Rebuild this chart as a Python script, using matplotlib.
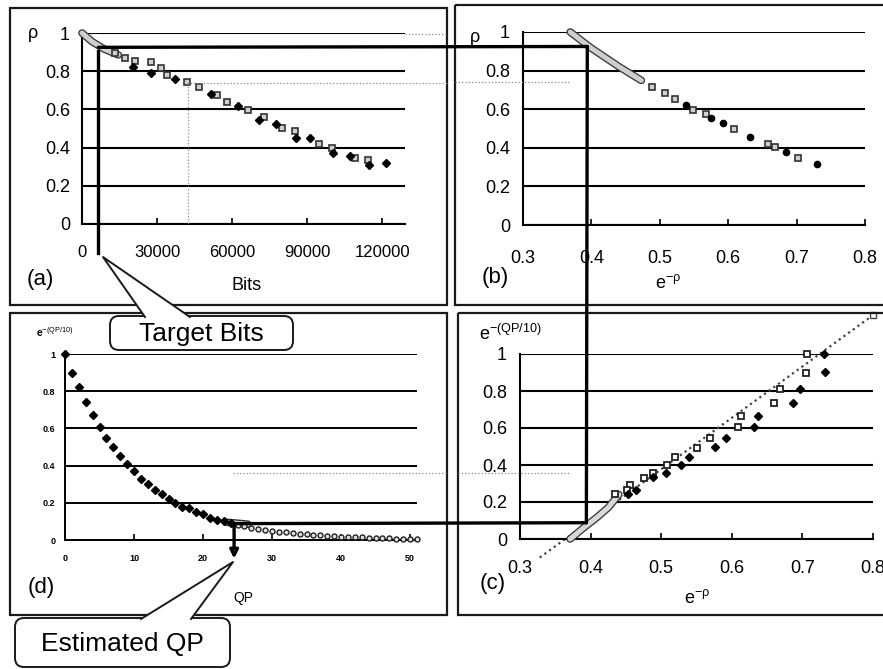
import matplotlib
matplotlib.use('Agg')
import matplotlib.pyplot as plt
from matplotlib.patches import Rectangle, FancyBboxPatch, Polygon, ConnectionPatch
import matplotlib.patheffects as pe

# ---------------- data ----------------
# (a) rho vs bits
bits_a_fill = [20500, 27600, 37200, 51600, 62300, 70800, 77500, 85600, 91200, 100100, 107200, 114800, 121500]
rho_a_fill = [0.824, 0.789, 0.759, 0.681, 0.618, 0.545, 0.522, 0.449, 0.452, 0.373, 0.356, 0.309, 0.318]
bits_a_sq = [13200, 17200, 21200, 27600, 31600, 33900, 41900, 46900, 53900, 57900, 66300, 72500, 79900, 85200, 94800, 99900, 108900, 114300]
rho_a_sq = [0.894, 0.868, 0.853, 0.846, 0.815, 0.780, 0.742, 0.719, 0.675, 0.637, 0.597, 0.562, 0.501, 0.487, 0.419, 0.400, 0.347, 0.335]
band_a_x = [0, 4000, 9000, 14500]
band_a_y = [1.0, 0.955, 0.915, 0.885]

# (b) rho vs e^-rho
e_b_fill = [0.539, 0.575, 0.592, 0.632, 0.685, 0.730]
rho_b_fill = [0.622, 0.553, 0.527, 0.458, 0.380, 0.314]
e_b_sq = [0.488, 0.507, 0.522, 0.549, 0.568, 0.609, 0.658, 0.668, 0.702]
rho_b_sq = [0.717, 0.682, 0.653, 0.596, 0.573, 0.496, 0.418, 0.406, 0.349]
band_b_x = [0.369, 0.400, 0.440, 0.473]
band_b_y = [1.0, 0.916, 0.821, 0.749]

# (c) e^-(QP/10) vs e^-rho
e_c_sq = [0.706, 0.705, 0.668, 0.660, 0.613, 0.609, 0.569, 0.550, 0.520, 0.508, 0.489, 0.475, 0.456, 0.451, 0.435]
q_c_sq = [1.00, 0.90, 0.81, 0.735, 0.665, 0.604, 0.548, 0.494, 0.441, 0.400, 0.358, 0.328, 0.292, 0.265, 0.243]
e_c_fill = [0.731, 0.732, 0.697, 0.686, 0.637, 0.631, 0.592, 0.576, 0.540, 0.528, 0.507, 0.488, 0.464, 0.453]
q_c_fill = [1.00, 0.905, 0.81, 0.735, 0.665, 0.604, 0.548, 0.496, 0.441, 0.400, 0.358, 0.333, 0.265, 0.243]
fit_x = [0.328, 0.800]
fit_y = [-0.10, 1.21]
band_c_x = [0.371, 0.390, 0.410, 0.425, 0.440]
band_c_y = [0.0, 0.06, 0.12, 0.17, 0.24]

# (d) e^-(QP/10) vs QP
qp_d = list(range(0, 52))
q_d = [1.00, 0.90, 0.82, 0.74, 0.67, 0.61, 0.55, 0.50, 0.45, 0.41,
       0.37, 0.33, 0.30, 0.27, 0.25, 0.22, 0.20, 0.18, 0.17, 0.15,
       0.14, 0.12, 0.11, 0.10, 0.09, 0.08, 0.074, 0.067, 0.061, 0.055,
       0.050, 0.045, 0.041, 0.037, 0.033, 0.030, 0.027, 0.025, 0.022, 0.020,
       0.018, 0.017, 0.015, 0.014, 0.012, 0.011, 0.010, 0.009, 0.008, 0.007,
       0.007, 0.006]
band_d_x = [23.5, 26.5]
band_d_y = [0.095, 0.085]

# estimation path
target_bits = 6500
rho_target = 0.925
e_target = 0.394
q_target = 0.088
qp_target = 24.5

yticks = [0, 0.2, 0.4, 0.6, 0.8, 1.0]
ytick_labels = ['0', '0.2', '0.4', '0.6', '0.8', '1']
xticks_a = [0, 30000, 60000, 90000, 120000]
xticks_a_labels = ['0', '30000', '60000', '90000', '120000']
xticks_e = [0.3, 0.4, 0.5, 0.6, 0.7, 0.8]
xticks_e_labels = ['0.3', '0.4', '0.5', '0.6', '0.7', '0.8']
xticks_d = [0, 10, 20, 30, 40, 50]
xticks_d_labels = ['0', '10', '20', '30', '40', '50']

# ---------------- figure ----------------
plt.rcParams['font.family'] = ['Liberation Sans', 'DejaVu Sans']
plt.rcParams['mathtext.fontset'] = 'custom'
plt.rcParams['mathtext.rm'] = 'Liberation Sans'
plt.rcParams['mathtext.it'] = 'Liberation Sans'
plt.rcParams['mathtext.bf'] = 'Liberation Sans:bold'

W, H = 883, 669
fig = plt.figure(figsize=(W / 100, H / 100), dpi=100)
fig.patch.set_facecolor('white')


def px_axes(l, t, r, b):
    return fig.add_axes([l / W, 1 - b / H, (r - l) / W, (b - t) / H])


def style(ax, xlim, xt, xtl, fs, xpad, ypad, gl=1.5, xfs=None, bold=False):
    ax.set_xlim(*xlim)
    ax.set_ylim(0, 1)
    ax.set_yticks(yticks)
    ax.set_yticklabels(ytick_labels)
    ax.set_xticks(xt)
    ax.set_xticklabels(xtl)
    ax.patch.set_alpha(0)
    for s in ['top', 'right']:
        ax.spines[s].set_visible(False)
    for s in ['left', 'bottom']:
        ax.spines[s].set_linewidth(gl)
        ax.spines[s].set_color('black')
    ax.grid(axis='y', color='black', lw=gl)
    ax.set_axisbelow(True)
    ax.tick_params(axis='y', length=0, pad=ypad, labelsize=fs)
    ax.tick_params(axis='x', direction='in', length=4, width=1.2, pad=xpad,
                   labelsize=xfs if xfs else fs)
    if bold:
        for lab in ax.get_xticklabels() + ax.get_yticklabels():
            lab.set_fontweight('bold')


band_pe = [pe.Stroke(linewidth=5.5, foreground='#3a3a3a'), pe.Normal()]

# (a)
ax_a = px_axes(82, 33, 405, 224)
style(ax_a, (0, 129000), xticks_a, xticks_a_labels, 13, 15, 8.6, xfs=12)
ax_a.plot(band_a_x, band_a_y, color='#cfcfcf', lw=3.6, solid_capstyle='round', path_effects=band_pe, zorder=3, clip_on=False)
ax_a.plot(bits_a_sq, rho_a_sq, ls='none', marker='s', ms=5, mfc='#d0d0d0', mec='#333333', mew=1.2, zorder=4, clip_on=False)
ax_a.plot(bits_a_fill, rho_a_fill, ls='none', marker='D', ms=4.5, mfc='black', mec='black', zorder=5, clip_on=False)

# (b)
ax_b = px_axes(523, 32, 865, 225)
style(ax_b, (0.3, 0.8), xticks_e, xticks_e_labels, 13, 18, 9.4)
ax_b.plot(band_b_x, band_b_y, color='#cfcfcf', lw=3.6, solid_capstyle='round', path_effects=band_pe, zorder=3, clip_on=False)
ax_b.plot(e_b_sq, rho_b_sq, ls='none', marker='s', ms=4.5, mfc='#d0d0d0', mec='#333333', mew=1.2, zorder=4)
ax_b.plot(e_b_fill, rho_b_fill, ls='none', marker='o', ms=4.5, mfc='black', mec='black', zorder=5)

# (c)
ax_c = px_axes(520, 354, 873, 539)
style(ax_c, (0.3, 0.8), xticks_e, xticks_e_labels, 13, 15, 9.4)
ax_c.plot(fit_x, fit_y, ls=(0, (1, 1.6)), lw=1.6, color='#444444', zorder=2, clip_on=False)
ax_c.plot([fit_x[-1]], [fit_y[-1]], ls='none', marker='s', ms=5, mfc='white', mec='#444444', clip_on=False)
ax_c.plot(band_c_x, band_c_y, color='#d8d8d8', lw=3.6, solid_capstyle='round', path_effects=band_pe, zorder=3, clip_on=False)
ax_c.plot(e_c_sq, q_c_sq, ls='none', marker='s', ms=4.5, mfc='white', mec='#222222', mew=1.3, zorder=4, clip_on=False)
ax_c.plot(e_c_fill, q_c_fill, ls='none', marker='D', ms=4.2, mfc='black', mec='black', zorder=5, clip_on=False)

# (d)
ax_d = px_axes(65, 354, 417, 540)
style(ax_d, (0, 51), xticks_d, xticks_d_labels, 6.5, 10, 7, gl=1.4, bold=True)
ax_d.plot(qp_d[:25], q_d[:25], ls='none', marker='D', ms=3.8, mfc='black', mec='black', zorder=5, clip_on=False)
ax_d.plot(qp_d[25:], q_d[25:], ls='none', marker='o', ms=3.6, mfc='#e0e0e0', mec='#222222', mew=1.0, zorder=5, clip_on=False)
ax_d.plot(band_d_x, band_d_y, color='#cfcfcf', lw=3.5, solid_capstyle='round', path_effects=[pe.Stroke(linewidth=5.5, foreground='#333333'), pe.Normal()], zorder=4)

# ---------------- estimation path ----------------
LW = 2.4
ax_a.plot([target_bits, target_bits], [rho_target - 0.02, -0.15], color='black', lw=LW, clip_on=False, zorder=6)
for (pa, axA, pb, axB) in [((target_bits, rho_target), ax_a, (e_target, rho_target), ax_b),
                           ((e_target, rho_target), ax_b, (e_target, q_target), ax_c),
                           ((e_target, q_target), ax_c, (qp_target, q_target), ax_d)]:
    cp = ConnectionPatch(xyA=pa, coordsA=axA.transData, xyB=pb, coordsB=axB.transData,
                         color='black', lw=LW, zorder=6)
    fig.add_artist(cp)
ax_d.annotate('', xy=(qp_target, -0.1), xytext=(qp_target, q_target),
              arrowprops=dict(arrowstyle='-|>', lw=LW, color='black', mutation_scale=12,
                              shrinkA=0, shrinkB=0, fc='#bbbbbb'),
              annotation_clip=False, zorder=7)

# ---------------- overlay (frames, callouts, labels) ----------------
ov = fig.add_axes([0, 0, 1, 1])
ov.set_xlim(0, W)
ov.set_ylim(H, 0)
ov.axis('off')
ov.patch.set_alpha(0)

# faint guide lines
for xs, ys in [([187, 447], [83, 83]), ([455, 570], [82, 82]), ([188, 188], [83, 224]),
               ([233, 447], [473, 473]), ([458, 570], [473, 473]), ([405, 447], [34, 34])]:
    ov.plot(xs, ys, color='#8a8a8a', lw=0.9, ls=':')

# panel frames
for (l, t, r, b) in [(10, 8, 447, 305), (455, 5, 905, 305), (10, 313, 447, 615), (458, 313, 905, 615)]:
    ov.add_patch(Rectangle((l, t), r - l, b - t, fill=False, ec='#1a1a1a', lw=1.6))


def callout(l, t, r, b, tip, b1, b2, text):
    ov.add_patch(FancyBboxPatch((l, t), r - l, b - t, boxstyle='round,pad=0,rounding_size=9',
                                fc='white', ec='#1a1a1a', lw=1.4, zorder=5))
    ov.add_patch(Polygon([tip, b1, b2], closed=True, fc='white', ec='none', zorder=6))
    ov.plot([b1[0], tip[0], b2[0]], [b1[1], tip[1], b2[1]], color='#1a1a1a', lw=1.4, zorder=7)
    ov.text((l + r) / 2, (t + b) / 2 + 1, text, ha='center', va='center', fontsize=19, zorder=8)


callout(110, 316, 293, 350, (103, 257), (145, 317), (190, 317), 'Target Bits')
callout(15, 618, 230, 667, (233, 562), (141, 619), (191, 619), 'Estimated QP')

# axis labels and panel tags
ov.text(33, 34, 'ρ', ha='center', va='center', fontsize=13)
ov.text(247, 285, 'Bits', ha='center', va='center', fontsize=13)
ov.text(40, 279, '(a)', ha='center', va='center', fontsize=16)

ov.text(475, 38, 'ρ', ha='center', va='center', fontsize=13)
ov.text(668, 283, r'$\mathrm{e}^{-\rho}$', ha='center', va='center', fontsize=13)
ov.text(495, 277, '(b)', ha='center', va='center', fontsize=16)

ov.text(510, 334, r'$\mathrm{e}^{-(QP/10)}$', ha='center', va='center', fontsize=13)
ov.text(697, 598, r'$\mathrm{e}^{-\rho}$', ha='center', va='center', fontsize=13)
ov.text(493, 583, '(c)', ha='center', va='center', fontsize=16)

ov.text(55, 332, r'$\mathbf{e}^{-(QP/10)}$', ha='center', va='center', fontsize=7.5)
ov.text(243, 598, 'QP', ha='center', va='center', fontsize=10)
ov.text(41, 588, '(d)', ha='center', va='center', fontsize=16)

fig.savefig('out.png', dpi=100, facecolor='white')
